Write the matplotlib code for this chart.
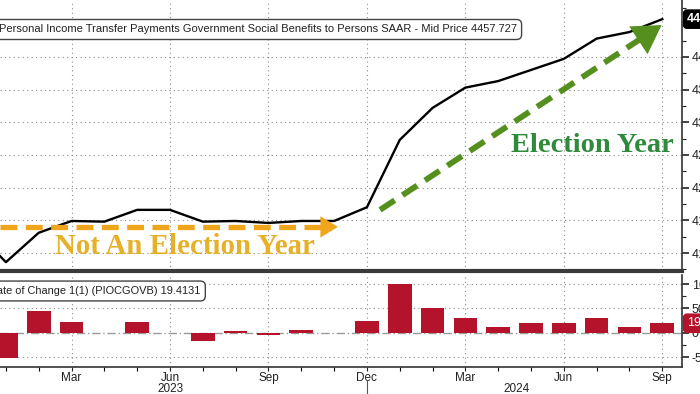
import matplotlib
matplotlib.use('Agg')
import matplotlib.pyplot as plt
import numpy as np
from matplotlib.ticker import MultipleLocator, FixedLocator
from matplotlib.transforms import blended_transform_factory

plt.rcParams['font.family'] = ['Liberation Sans', 'DejaVu Sans']

# monthly index: Dec 2022 = -1, Jan 2023 = 0 ... Sep 2024 = 20
months = list(range(-1, 21))
level = [4138, 4086, 4131, 4149, 4148, 4166, 4166, 4148, 4149, 4146, 4149, 4149,
         4170, 4273, 4322, 4353, 4363, 4380, 4397, 4428, 4438, 4457.727]
bar_months = list(range(0, 21))
roc = [-52, 44, 22, 0, 22, 0, -18, 4, -4, 5.5, 0, 24,
       101, 51, 31, 12, 19, 19, 31, 12, 19.4131]

tick_months = [2, 5, 8, 11, 14, 17, 20]
tick_labels = ['Mar', 'Jun', 'Sep', 'Dec', 'Mar', 'Jun', 'Sep']
years = ['2023', '2024']
year_pos = [5, 15.55]

main_title = 'Personal Income Transfer Payments Government Social Benefits to Persons SAAR - Mid Price 4457.727'
sub_title = 'Rate of Change 1(1) (PIOCGOVB) 19.4131'

W, H = 700, 394
fig = plt.figure(figsize=(7, 3.94), dpi=100)
ax = fig.add_axes([0, 1 - 271 / H, 682 / W, 271 / H])
ax2 = fig.add_axes([0, 1 - 367 / H, 682 / W, 92 / H])

xl = (-0.18, 20.6)
grid_kw = dict(color='#8a8a8a', lw=0.8, ls=(0, (1, 3)))

# ---- main panel
ax.plot(months, level, color='black', lw=1.7, zorder=3)
ax.set_xlim(xl)
ax.set_ylim(4072.5, 4487)
ax.yaxis.tick_right()
ax.yaxis.set_major_locator(FixedLocator(list(range(4100, 4450, 50))))
ax.yaxis.set_minor_locator(MultipleLocator(25))
ax.set_xticks(tick_months)
ax.tick_params(axis='x', length=0, labelbottom=False)
ax.tick_params(axis='y', which='major', direction='out', length=5, width=1.2,
               labelsize=9, pad=2, colors='#222222')
ax.tick_params(axis='y', which='minor', direction='out', length=3, width=0.8, colors='#222222')
ax.grid(True, **grid_kw)
for s in ['top', 'left']:
    ax.spines[s].set_visible(False)
ax.spines['right'].set_color('#333333')
ax.spines['right'].set_linewidth(1.2)
ax.spines['bottom'].set_color('#3a3a3a')
ax.spines['bottom'].set_linewidth(3)

tr = blended_transform_factory(ax.transAxes, ax.transData)
ax.text(1.007, level[-1], '4457.7', transform=tr, color='white', fontsize=9,
        fontweight='bold', va='center', ha='left',
        bbox=dict(boxstyle='round,pad=0.25', fc='black', ec='black'))

# annotations
orange = '#efa51c'
green = '#55901f'
o_start, o_end = (-0.18, 4140), (10.2, 4140)
ax.plot([o_start[0], o_end[0] - 0.25], [o_start[1], o_end[1]], color=orange,
        lw=3.8, ls=(0, (3.2, 1.6)), solid_capstyle='butt', zorder=4)
ax.annotate('', xy=o_end, xytext=(o_end[0] - 0.3, o_end[1]),
            arrowprops=dict(arrowstyle='-|>,head_length=0.9,head_width=0.55',
                            color=orange, lw=0, mutation_scale=14), zorder=4)
ax.text(5.45, 4110, 'Not An Election Year', color='#e6b028', fontsize=20.8,
        fontweight='bold', family=['Liberation Serif', 'DejaVu Serif'],
        ha='center', va='center', zorder=5)

g_start, g_end = (11.4, 4166), (20.05, 4451)
frac = 0.04
g_mid = (g_end[0] - (g_end[0] - g_start[0]) * frac, g_end[1] - (g_end[1] - g_start[1]) * frac)
ax.plot([g_start[0], g_mid[0]], [g_start[1], g_mid[1]], color=green,
        lw=4.2, ls=(0, (3, 1.6)), solid_capstyle='butt', zorder=4)
ax.annotate('', xy=g_end, xytext=g_mid,
            arrowprops=dict(arrowstyle='-|>,head_length=1.0,head_width=0.6',
                            color=green, lw=0, mutation_scale=20), zorder=4)
ax.text(17.87, 4265, 'Election Year', color='#2f8a3c', fontsize=20.5,
        fontweight='bold', family=['Liberation Serif', 'DejaVu Serif'],
        ha='center', va='center', zorder=5)

fig.text(-0.002, 1 - 29.5 / H, main_title, fontsize=8, color='#222222',
         ha='left', va='center',
         bbox=dict(boxstyle='round,pad=0.45', fc='white', ec='#444444', lw=1))

# ---- lower panel
ax2.bar(bar_months, roc, width=0.72, color='#b5132b', zorder=3)
ax2.set_xlim(xl)
ax2.set_ylim(-70.5, 118.6)
ax2.yaxis.tick_right()
ax2.yaxis.set_major_locator(FixedLocator([-50, 0, 50, 100]))
ax2.yaxis.set_minor_locator(MultipleLocator(25))
ax2.set_yticklabels(['-50', '0', '50', '100'])
ax2.tick_params(axis='y', which='major', direction='out', length=5, width=1.2,
                labelsize=9, pad=2, colors='#222222')
ax2.tick_params(axis='y', which='minor', direction='out', length=3, width=0.8, colors='#222222')
ax2.set_xticks(tick_months)
ax2.set_xticklabels(tick_labels)
ax2.xaxis.set_minor_locator(FixedLocator([m for m in range(0, 21) if m not in tick_months]))
ax2.tick_params(axis='x', which='major', direction='out', length=3, width=0.8,
                labelsize=8.5, pad=0.5, colors='#222222')
ax2.tick_params(axis='x', which='minor', direction='out', length=3, width=0.8)
for y in [-50, 50, 100]:
    ax2.axhline(y, **grid_kw, zorder=1)
for m in tick_months:
    ax2.axvline(m, **grid_kw, zorder=1)
ax2.axhline(0, color='#9a9a9a', lw=1, ls=(0, (6, 2, 1, 2)), zorder=2)
for s in ['top', 'left']:
    ax2.spines[s].set_visible(False)
ax2.spines['right'].set_color('#333333')
ax2.spines['right'].set_linewidth(1.2)
ax2.spines['bottom'].set_color('#333333')
ax2.spines['bottom'].set_linewidth(1.2)

tr2 = blended_transform_factory(ax2.transAxes, ax2.transData)
ax2.text(1.007, roc[-1], '19.41', transform=tr2, color='white', fontsize=9,
         va='center', ha='left',
         bbox=dict(boxstyle='round,pad=0.25', fc='#b5132b', ec='#b5132b'))

trx = blended_transform_factory(ax2.transData, fig.transFigure)
for yl, xp in zip(years, year_pos):
    fig.text(xp, 1 - 389.5 / H, yl, transform=trx, fontsize=8.5, color='#222222',
             ha='center', va='center')
fig.add_artist(plt.Line2D([11, 11], [0, 1 - 381 / H], transform=trx,
                          color='#555555', lw=0.8))

fig.text(-11 / W, 1 - 291 / H, sub_title, fontsize=7.9, color='#222222',
         ha='left', va='center',
         bbox=dict(boxstyle='round,pad=0.45', fc='white', ec='#444444', lw=1))

fig.savefig('out.png', dpi=100)
